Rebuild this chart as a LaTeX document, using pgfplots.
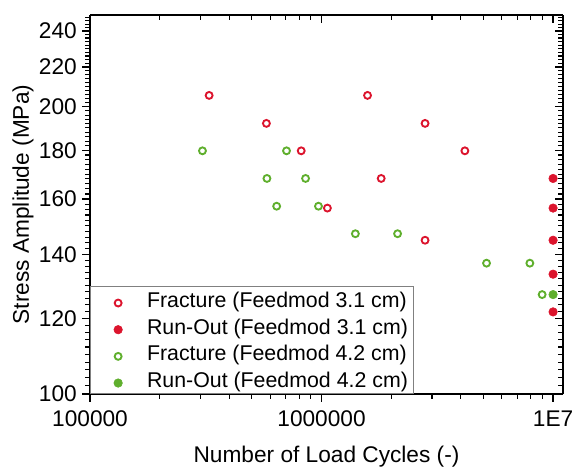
\documentclass[border=0pt]{standalone}
\usepackage{fontspec}
\setmainfont{Liberation Sans}
\usepackage{pgfplots}
\usepackage{pgfplotstable}
\pgfplotsset{compat=1.18}
\definecolor{cred}{RGB}{220,20,45}
\definecolor{cgreen}{RGB}{95,175,45}

\pgfplotstableread{
N S
3.27e5 205.5
5.78e5 192.1
8.17e5 179.8
1.06e6 156.6
1.58e6 205.5
1.81e6 168.2
2.80e6 192.1
2.80e6 144.9
4.16e6 179.8
}\fracA
\pgfplotstableread{
N S
1e7 168.2
1e7 156.6
1e7 144.9
1e7 133.5
1e7 121.9
}\runA
\pgfplotstableread{
N S
3.06e5 179.8
5.81e5 168.2
6.40e5 157.3
7.06e5 179.8
8.53e5 168.2
9.70e5 157.3
1.40e6 147.2
2.13e6 147.2
5.16e6 137.1
7.94e6 137.1
8.97e6 127.1
}\fracB
\pgfplotstableread{
N S
1e7 127.1
}\runB

\begin{document}
\begin{tikzpicture}
\begin{axis}[
  scale only axis, width=354.75pt, height=284.25pt,
  xmode=log, ymode=log,
  xmin=1e5, xmax=1.104e7, ymin=100, ymax=249.5,
  xtick={1e5,1e6,1e7},
  minor xtick={2e5,3e5,4e5,5e5,6e5,7e5,8e5,9e5,2e6,3e6,4e6,5e6,6e6,7e6,8e6,9e6},
  ytick={100,120,140,160,180,200,220,240},
  minor ytick={100,102,...,248},
  major tick length=6pt, minor tick length=3.5pt,
  major tick style={black, line width=1.1pt},
  minor tick style={black, line width=0.8pt},
  axis line style={black, line width=1.3pt},
  axis x line*=bottom, axis y line*=left, tick align=outside,
  xticklabels={100000,1000000,1E7},
  yticklabels={100,120,140,160,180,200,220,240},
  ticklabel style={font=\fontsize{17}{20}\selectfont},
  xticklabel style={anchor=base, inner sep=0pt, yshift=-18.75pt},
  yticklabel style={anchor=east, inner sep=0pt, xshift=-3.75pt},
  xlabel={Number of Load Cycles (-)},
  ylabel={Stress Amplitude (MPa)},
  label style={font=\fontsize{17}{20}\selectfont},
  xlabel style={at={(axis description cs:0.5,-0.1808)}, anchor=base},
  ylabel style={at={(axis description cs:-0.129,0.5)}, anchor=base},
  legend style={at={(0,0)}, anchor=south west, draw=gray, line width=0.8pt,
    fill=white, font=\fontsize{16}{19}\selectfont, inner xsep=2pt, inner ysep=0pt,
    nodes={text height=13.5pt, text depth=2.5pt, inner sep=2pt}},
  legend cell align=left,
  legend image code/.code={\path (-18pt,0pt) (19pt,0pt); \draw[#1] plot coordinates {(0pt,-2.2pt)};},
]
\addplot[only marks, mark=o, cred, mark size=2.6pt, line width=1.4pt, mark options={fill=white}] table[x=N,y=S] {\fracA};
\addlegendentry{Fracture (Feedmod 3.1 cm)}
\addplot[only marks, mark=*, cred, mark size=3.2pt, line width=0.4pt, mark options={fill=cred, draw=cred}] table[x=N,y=S] {\runA};
\addlegendentry{Run-Out (Feedmod 3.1 cm)}
\addplot[only marks, mark=o, cgreen, mark size=2.6pt, line width=1.4pt, mark options={fill=white}] table[x=N,y=S] {\fracB};
\addlegendentry{Fracture (Feedmod 4.2 cm)}
\addplot[only marks, mark=*, cgreen, mark size=3.2pt, line width=0.4pt, mark options={fill=cgreen, draw=cgreen}] table[x=N,y=S] {\runB};
\addlegendentry{Run-Out (Feedmod 4.2 cm)}
\end{axis}
\begin{axis}[
  scale only axis, width=354.75pt, height=284.25pt,
  xmode=log, ymode=log,
  xmin=1e5, xmax=1.104e7, ymin=100, ymax=249.5,
  xtick={1e5,1e6,1e7},
  minor xtick={2e5,3e5,4e5,5e5,6e5,7e5,8e5,9e5,2e6,3e6,4e6,5e6,6e6,7e6,8e6,9e6},
  ytick={100,120,140,160,180,200,220,240},
  minor ytick={100,102,...,248},
  major tick length=6pt, minor tick length=3.5pt,
  major tick style={black, line width=1.1pt},
  minor tick style={black, line width=0.8pt},
  axis line style={black, line width=1.3pt},
  axis x line*=top, axis y line*=right, tick align=inside,
  xticklabels={}, yticklabels={},
]
\end{axis}
\path (-67.5pt,-55.5pt) rectangle (364.5pt,295.5pt);
\end{tikzpicture}
\end{document}
